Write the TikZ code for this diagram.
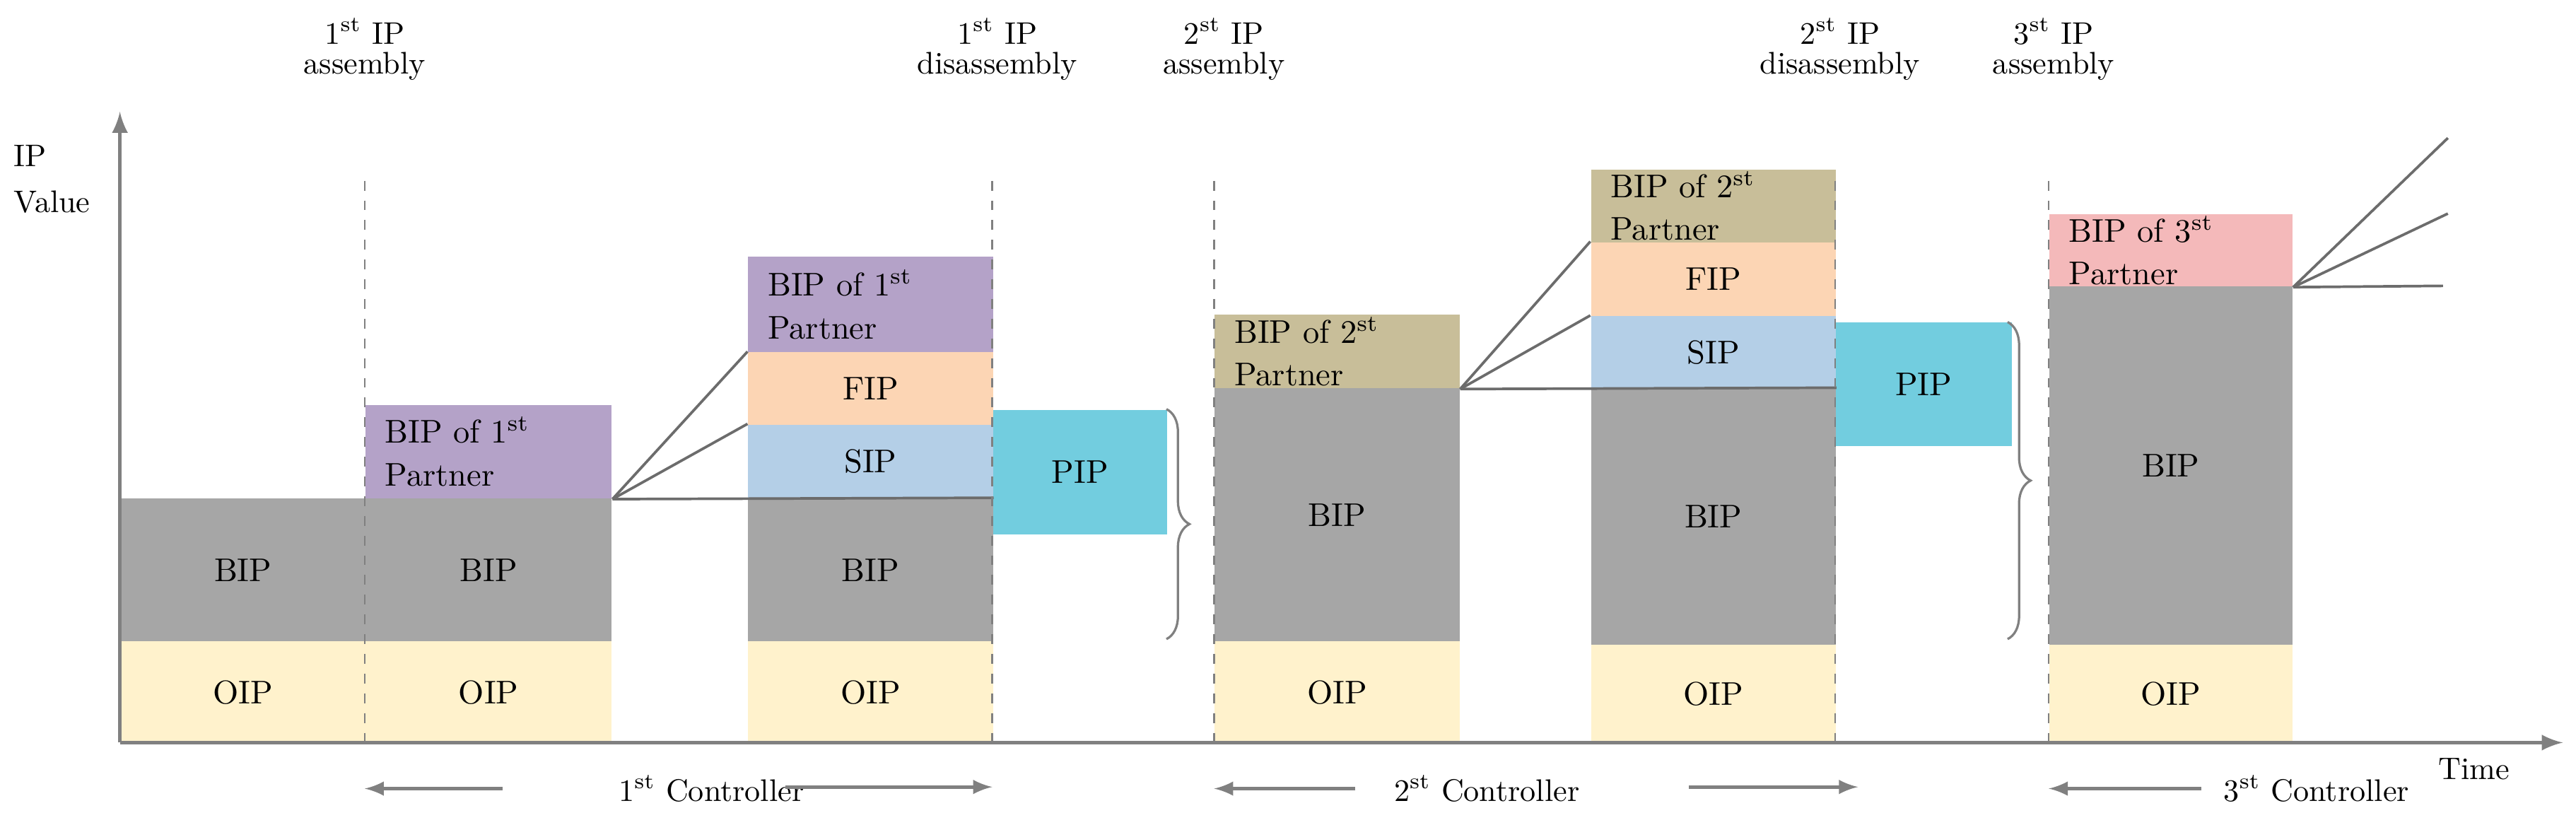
\documentclass[tikz,border=0pt]{standalone}
\usetikzlibrary{decorations.pathreplacing,calc}
\begin{document}
\begin{tikzpicture}[x=0.5pt,y=-0.5pt,
  blk/.style={draw=none,inner sep=0pt,anchor=north west,font=\fontsize{10}{12}\selectfont},
  conn/.style={draw=gray!85!black,line width=0.8pt},
  axis/.style={draw=gray,line width=1.2pt,-latex},
  vdash/.style={draw=gray,dashed,line width=0.6pt},
  lbl/.style={font=\fontsize{9.5}{9}\selectfont,align=center,inner sep=0pt},
  ctl/.style={draw=gray,line width=1pt,-latex}]
\definecolor{cBIP}{HTML}{A6A6A6}\definecolor{cOIP}{HTML}{FFF2CC}
\definecolor{cPur}{HTML}{B4A2C8}\definecolor{cFIP}{HTML}{FCD5B4}
\definecolor{cSIP}{HTML}{B4CFE7}\definecolor{cPIP}{HTML}{72CDDF}
\definecolor{cTan}{HTML}{C8BE99}\definecolor{cPink}{HTML}{F4B9BA}
\useasboundingbox (0,0) rectangle (1568,502);
\newcommand\blk[7]{\node[blk,fill=#6,minimum width={(#4-#2)*0.5pt},minimum height={(#5-#3)*0.5pt}] (#1) at (#2,#3) {};
  \node[font=\fontsize{10}{12}\selectfont] at ($(#1.center)$) {#7};}
\newcommand\ptn[7]{\node[blk,fill=#6,minimum width={(#4-#2)*0.5pt},minimum height={(#5-#3)*0.5pt}] (#1) at (#2,#3) {};
  \node[font=\fontsize{10}{13}\selectfont,align=left,anchor=west,inner sep=0pt] at ($(#1.west)+(12,0)$) {BIP of #7\textsuperscript{st}\\Partner};}
% column 1
\blk{b1}{73}{303}{222}{390}{cBIP}{BIP}
\blk{o1}{73}{390}{222}{452}{cOIP}{OIP}
% column 2
\ptn{p2}{222}{246}{372}{303}{cPur}{1}
\blk{b2}{222}{303}{372}{390}{cBIP}{BIP}
\blk{o2}{222}{390}{372}{452}{cOIP}{OIP}
% column 3
\ptn{p3}{455}{156}{604}{214}{cPur}{1}
\blk{f3}{455}{214}{604}{258}{cFIP}{FIP}
\blk{s3}{455}{258}{604}{303}{cSIP}{SIP}
\blk{b3}{455}{303}{604}{390}{cBIP}{BIP}
\blk{o3}{455}{390}{604}{452}{cOIP}{OIP}
\blk{pip1}{604}{249}{710}{325}{cPIP}{PIP}
% column 4
\ptn{p4}{739}{191}{888}{236}{cTan}{2}
\blk{b4}{739}{236}{888}{390}{cBIP}{BIP}
\blk{o4}{739}{390}{888}{452}{cOIP}{OIP}
% column 5
\ptn{p5}{968}{103}{1117}{147}{cTan}{2}
\blk{f5}{968}{147}{1117}{192}{cFIP}{FIP}
\blk{s5}{968}{192}{1117}{236}{cSIP}{SIP}
\blk{b5}{968}{236}{1117}{392}{cBIP}{BIP}
\blk{o5}{968}{392}{1117}{452}{cOIP}{OIP}
\blk{pip2}{1117}{196}{1224}{271}{cPIP}{PIP}
% column 6
\ptn{p6}{1247}{130}{1395}{174}{cPink}{3}
\blk{b6}{1247}{174}{1395}{392}{cBIP}{BIP}
\blk{o6}{1247}{392}{1395}{452}{cOIP}{OIP}
% connectors
\draw[conn] (p2.south east) -- (f3.north west);
\draw[conn] (p2.south east) -- (s3.north west);
\draw[conn] (p2.south east) -- (b3.north east);
\draw[conn] (p4.south east) -- (f5.north west);
\draw[conn] (p4.south east) -- (s5.north west);
\draw[conn] (p4.south east) -- (b5.north east);
\coordinate (e1) at (1490,84);\coordinate (e2) at (1490,130);\coordinate (e3) at (1487,174);
\draw[conn] (p6.south east) -- (e1);
\draw[conn] (p6.south east) -- (e2);
\draw[conn] (p6.south east) -- (e3);
% braces
\draw[gray,line width=0.7pt,decorate,decoration={brace,amplitude=7pt}] (710,249) -- (710,389);
\draw[gray,line width=0.7pt,decorate,decoration={brace,amplitude=7pt}] (1222,196) -- (1222,389);
% dashed lines
\foreach \x in {222,604,739,1117,1247} \draw[vdash] (\x,110) -- (\x,452);
% axes
\coordinate (org) at (73,452);\coordinate (ytop) at (73,68);\coordinate (xend) at (1560,452);
\draw[axis] (org) -- (ytop);
\draw[axis] (org) -- (xend);
\node[lbl,align=left,anchor=north west,font=\fontsize{9.5}{14}\selectfont] (yl) at (8,88) {IP\\Value};
\node[lbl,anchor=south] (tl) at (1506,475) {Time};
% top labels
\node[lbl] (l1) at (222,30) {1\textsuperscript{st} IP\\assembly};
\node[lbl] (l2) at (607,30) {1\textsuperscript{st} IP\\disassembly};
\node[lbl] (l3) at (745,30) {2\textsuperscript{st} IP\\assembly};
\node[lbl] (l4) at (1120,30) {2\textsuperscript{st} IP\\disassembly};
\node[lbl] (l5) at (1250,30) {3\textsuperscript{st} IP\\assembly};
% controllers
\node[lbl] (c1) at (433,480) {1\textsuperscript{st} Controller};
\coordinate (c1l) at (222,480);\coordinate (c1r) at (604,479);
\draw[ctl] (306,480) -- (c1l);\draw[ctl] (478,479) -- (c1r);
\node[lbl] (c2) at (905,480) {2\textsuperscript{st} Controller};
\coordinate (c2l) at (739,480);\coordinate (c2r) at (1131,479);
\draw[ctl] (825,480) -- (c2l);\draw[ctl] (1028,479) -- (c2r);
\node[lbl] (c3) at (1410,480) {3\textsuperscript{st} Controller};
\coordinate (c3l) at (1247,480);
\draw[ctl] (1340,480) -- (c3l);
\end{tikzpicture}
\end{document}
